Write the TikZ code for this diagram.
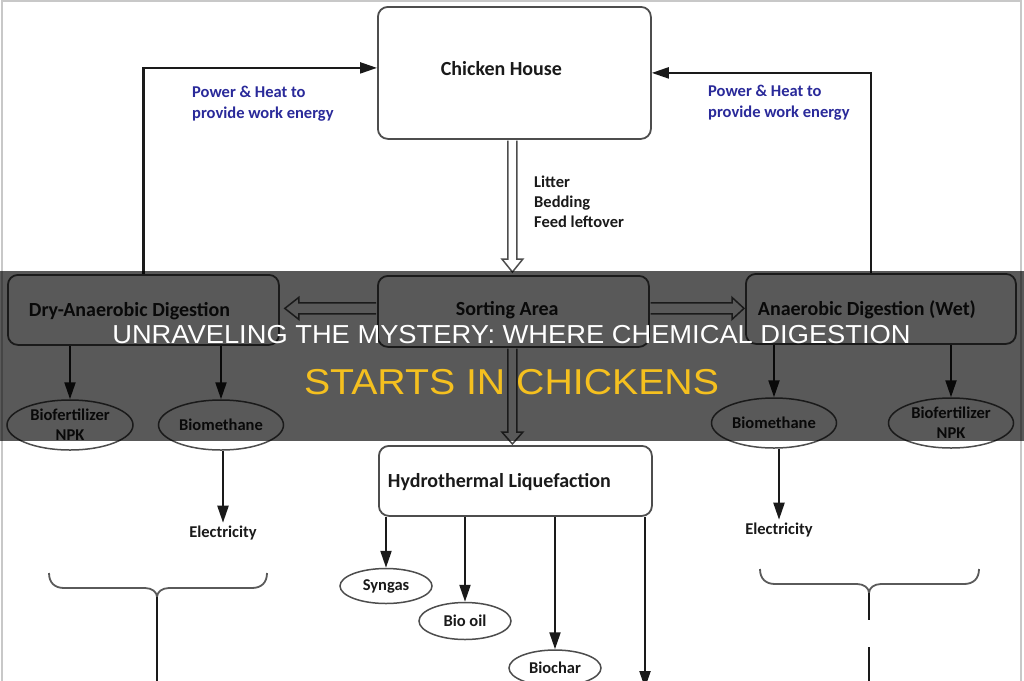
\documentclass[tikz,border=0pt]{standalone}
\usepackage{fontspec}
\setmainfont{Carlito}
\newfontfamily\titlefonta[FakeStretch=1.05]{Liberation Sans}
\newfontfamily\titlefontb[FakeStretch=1.09]{Liberation Sans}
\usetikzlibrary{arrows.meta,shapes.geometric,calc}
\definecolor{boxline}{HTML}{4D4D4D}
\definecolor{ink}{HTML}{1A1A1A}
\definecolor{bluetxt}{HTML}{2A2A9A}
\definecolor{titleyellow}{HTML}{F5C01F}
\definecolor{framecol}{HTML}{C8C8C8}
\definecolor{bracecol}{HTML}{5A5A5A}
\begin{document}
\begin{tikzpicture}[x=1pt,y=-1pt,
  box/.style={draw=boxline, line width=1.8pt, rounded corners=10pt, fill=white, anchor=north west,
    inner xsep=0pt, align=flush left, font=\bfseries\fontsize{20}{24}\selectfont, text=ink,
    text height=14pt, text depth=1pt},
  oval/.style={ellipse, draw=boxline, line width=1.5pt, inner sep=0pt, align=center,
    font=\bfseries\fontsize{16.5}{20}\selectfont, text=ink},
  conn/.style={draw=ink, line width=2.2pt, -{Triangle[length=17pt,width=11pt]}},
  hollow/.style={draw=boxline, line width=1.5pt, fill=white, line join=miter},
  small/.style={font=\bfseries\fontsize{16.5}{20}\selectfont, text=ink, inner sep=0pt, align=left},
  bluelabel/.style={font=\bfseries\fontsize{16.5}{21}\selectfont, text=bluetxt, inner sep=0pt,
    align=left, anchor=north west},
  brace/.style={draw=bracecol, line width=1.8pt},
  stem/.style={draw=ink, line width=2.4pt},
  banner/.style={fill=black, opacity=0.65},
]
\useasboundingbox (0,0) rectangle (1024,680);
\fill[white] (0,0) rectangle (1024,680);
\draw[draw=framecol, line width=2pt] (2,684) -- (2,1) -- (1021,1) -- (1021,684);

% boxes
\node[box, minimum width=273pt, minimum height=132pt, text width=147pt, text depth=8pt] (ch) at (377,6) {Chicken House};
\node[box, minimum width=271pt, minimum height=70pt, text width=229pt] (dry) at (7,274) {Dry-Anaerobic Digestion};
\node[box, minimum width=271pt, minimum height=71pt, text width=115pt, text depth=6pt] (sa) at (377,275) {Sorting Area};
\node[box, minimum width=270pt, minimum height=70pt, text width=246pt] (wet) at (745,273) {Anaerobic Digestion (Wet)};
\node[box, minimum width=273pt, minimum height=70pt, text width=255pt] (htl) at (378,445) {Hydrothermal Liquefaction};

% ellipses
\node[oval, minimum width=126pt, minimum height=50pt] (bf1) at (70,425) {Biofertilizer\\NPK};
\node[oval, minimum width=125pt, minimum height=50pt] (bm1) at (221,425) {Biomethane};
\node[oval, minimum width=125pt, minimum height=50pt] (bm2) at (774,423) {Biomethane};
\node[oval, minimum width=125pt, minimum height=50pt] (bf2) at (951,423) {Biofertilizer\\NPK};
\node[oval, minimum width=92pt, minimum height=35pt] (syn) at (386,586) {Syngas};
\node[oval, minimum width=92pt, minimum height=37pt] (oil) at (465,621) {Bio oil};
\node[oval, minimum width=92pt, minimum height=36pt] (char) at (555,668) {Biochar};

% plain texts
\node[small] (el1) at (223,533) {Electricity};
\node[small] (el2) at (779,530) {Electricity};
\node[small, anchor=north west] (waste) at (534,176) {Litter\\Bedding\\Feed leftover};
\node[bluelabel] (pl) at (192,86) {Power \& Heat to\\provide work energy};
\node[bluelabel] (pr) at (708,85) {Power \& Heat to\\provide work energy};

% feedback connectors
\draw[conn] (dry.north) |- ([yshift=5pt]ch.west);
\draw[conn] ([xshift=-10pt]wet.north) |- (ch.east);

% product connectors
\draw[conn] (bf1.north |- dry.south) -- (bf1.north);
\draw[conn] (bm1.north |- dry.south) -- (bm1.north);
\draw[conn] (bm2.north |- wet.south) -- (bm2.north);
\draw[conn] (bf2.north |- wet.south) -- (bf2.north);
\draw[conn] (el1.north |- bm1.south) -- ([yshift=3pt]el1.north);
\draw[conn] (el2.north |- bm2.south) -- ([yshift=3pt]el2.north);
\draw[conn] (syn.north |- htl.south) -- (syn.north);
\draw[conn] (oil.north |- htl.south) -- (oil.north);
\draw[conn] (char.north |- htl.south) -- (char.north);
\coordinate (htlout) at (645,688);
\draw[conn] (htl.south -| htlout) -- (htlout);

% hollow arrows
\draw[hollow] let \p1=(ch.south), \p2=(sa.north) in
  (\x1-6.5pt,\y1-0.9pt) -- (\x1-6.5pt,\y2+16pt) -- (\x1-12.5pt,\y2+16pt) -- (\x1-2pt,\y2+3pt)
  -- (\x1+8.5pt,\y2+16pt) -- (\x1+2.5pt,\y2+16pt) -- (\x1+2.5pt,\y1-0.9pt);
\draw[hollow] let \p1=(sa.south), \p2=(htl.north) in
  (\x1-5.5pt,\y1-0.9pt) -- (\x1-5.5pt,\y2+13pt) -- (\x1-11.5pt,\y2+13pt) -- (\x1-1pt,\y2+1pt)
  -- (\x1+9.5pt,\y2+13pt) -- (\x1+3.5pt,\y2+13pt) -- (\x1+3.5pt,\y1-0.9pt);
\draw[hollow] let \p1=(sa.west), \p2=(dry.east) in
  (\x1-0.9pt,\y1+8.5pt) -- (\x2+19pt,\y1+8.5pt) -- (\x2+19pt,\y1+14pt) -- (\x2+5pt,\y1+3pt)
  -- (\x2+19pt,\y1-8pt) -- (\x2+19pt,\y1-2.5pt) -- (\x1-0.9pt,\y1-2.5pt);
\draw[hollow] let \p1=(sa.east), \p2=(wet.west) in
  (\x1+0.9pt,\y1+8.5pt) -- (\x2-13pt,\y1+8.5pt) -- (\x2-13pt,\y1+14pt) -- (\x2-1pt,\y1+3pt)
  -- (\x2-13pt,\y1-8pt) -- (\x2-13pt,\y1-2.5pt) -- (\x1+0.9pt,\y1-2.5pt);

% braces
\draw[brace] (49,573) .. controls (49,583) and (55,588) .. (64,588) -- (145,588)
  .. controls (152,588) and (157,592) .. (157,597) .. controls (157,592) and (162,588) .. (169,588)
  -- (252,588) .. controls (261,588) and (267,583) .. (267,573);
\draw[brace] (760,569) .. controls (760,579) and (766,584) .. (775,584) -- (857,584)
  .. controls (864,584) and (869,588) .. (869,593) .. controls (869,588) and (874,584) .. (881,584)
  -- (964,584) .. controls (973,584) and (979,579) .. (979,569);
\coordinate (lb) at (157,597);
\coordinate (lbend) at (157,684);
\draw[stem] (lb) -- (lbend);
\coordinate (rb) at (869,593);
\coordinate (rbgap) at (869,620);
\coordinate (rbres) at (869,647);
\coordinate (rbend) at (869,684);
\draw[stem] (rb) -- (rbgap);
\draw[stem] (rbres) -- (rbend);

% title banner
\fill[banner] (0,271) rectangle (1024,441);
\node[anchor=base, inner sep=0pt, text=white, font=\titlefonta\fontsize{26}{30}\selectfont] (t1) at (511.5,343)
  {UNRAVELING THE MYSTERY: WHERE CHEMICAL DIGESTION};
\node[anchor=base, inner sep=0pt, text=titleyellow, font=\titlefontb\fontsize{36}{42}\selectfont] (t2) at (511.5,394)
  {STARTS IN CHICKENS};
\end{tikzpicture}
\end{document}
